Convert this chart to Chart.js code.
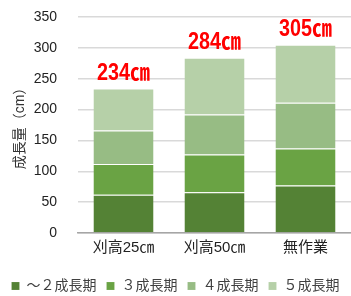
<!DOCTYPE html>
<html>
<head>
<meta charset="utf-8">
<script src="https://cdn.jsdelivr.net/npm/chart.js@4/dist/chart.umd.min.js"></script>
<style>
html,body{margin:0;padding:0;background:#fff;}
#wrap{width:351px;height:296px;position:relative;}
</style>
</head>
<body>
<div id="wrap"><canvas id="c" width="351" height="296"></canvas></div>
<script>
const categories = ['刈高25㎝', '刈高50㎝', '無作業'];
const seriesNames = ['～２成長期', '３成長期', '４成長期', '５成長期'];
const stage2 = [62, 66, 77];
const stage3 = [50, 61, 60];
const stage4 = [54, 65, 74];
const stage5 = [68, 92, 94];
const yTicks = [0, 50, 100, 150, 200, 250, 300, 350];
const colors = ['#548235', '#6aa344', '#97bc84', '#b6d0a8'];
const unit = '㎝';
const yTitle = '成長量（cm）';

const FONT = '"Liberation Sans", "Noto Sans CJK JP", sans-serif';
const seriesData = [stage2, stage3, stage4, stage5];

const totalLabels = {
  id: 'totalLabels',
  afterDatasetsDraw(chart) {
    const ctx = chart.ctx;
    const xs = chart.scales.x, ys = chart.scales.y;
    ctx.save();
    ctx.fillStyle = '#ff0000';
    ctx.font = 'bold 23px ' + FONT;
    ctx.textAlign = 'center';
    ctx.textBaseline = 'alphabetic';
    categories.forEach((c, i) => {
      const total = seriesData.reduce((s, arr) => s + arr[i], 0);
      const x = xs.getPixelForValue(i);
      const y = ys.getPixelForValue(total);
      ctx.save();
      ctx.translate(x, y - 9);
      ctx.scale(0.86, 1);
      ctx.fillText(total + unit, 0, 0);
      ctx.restore();
    });
    ctx.restore();
  }
};

new Chart(document.getElementById('c'), {
  type: 'bar',
  data: {
    labels: categories,
    datasets: seriesData.map((d, i) => ({
      label: seriesNames[i],
      data: d,
      backgroundColor: colors[i],
      borderColor: 'rgba(255,255,255,0.55)',
      borderWidth: {top: 1, left: 0, right: 0, bottom: 0},
      borderSkipped: false,
      categoryPercentage: 1,
      barPercentage: 0.66
    }))
  },
  options: {
    responsive: false,
    animation: false,
    devicePixelRatio: 1,
    layout: {padding: {top: 0, right: 0, left: 0, bottom: -7}},
    plugins: {
      tooltip: {enabled: false},
      title: {display: false},
      legend: {
        position: 'bottom',
        labels: {
          boxWidth: 8, boxHeight: 8,
          padding: 10,
          color: '#404040',
          font: {family: FONT, size: 14}
        }
      }
    },
    scales: {
      x: {
        stacked: true,
        grid: {display: false, drawTicks: false},
        border: {display: true, color: '#a6a6a6', width: 1.5},
        ticks: {color: '#222', font: {family: FONT, size: 15}, padding: 6},
        afterFit(s) { s.height = 36; }
      },
      y: {
        stacked: true,
        min: 0, max: 350,
        afterBuildTicks(s) { s.ticks = yTicks.map(v => ({value: v})); },
        grid: {color: '#d9d9d9', lineWidth: 1.5, drawTicks: false},
        border: {display: false},
        ticks: {color: '#222', font: {family: FONT, size: 14}, padding: 21},
        title: {display: true, text: yTitle, color: '#333', font: {family: FONT, size: 14}, padding: {top: 12, bottom: 0}},
        afterFit(s) { s.width = 78; s.paddingTop = 17; s.paddingBottom = 8; }
      }
    }
  },
  plugins: [totalLabels]
});
</script>
</body>
</html>
